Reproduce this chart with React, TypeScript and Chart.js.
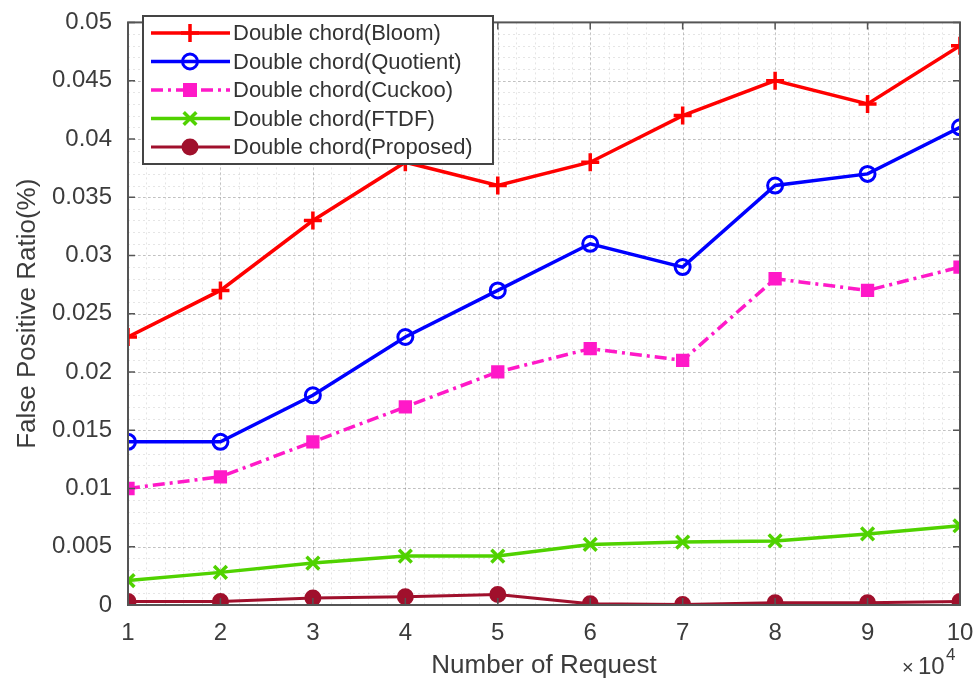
import React, { useEffect, useRef } from "react";
import { Chart, registerables } from "chart.js";

Chart.register(...registerables);

const requests = [1, 2, 3, 4, 5, 6, 7, 8, 9, 10];
const bloom = [0.023, 0.027, 0.033, 0.038, 0.036, 0.038, 0.042, 0.045, 0.043, 0.048];
const quotient = [0.014, 0.014, 0.018, 0.023, 0.027, 0.031, 0.029, 0.036, 0.037, 0.041];
const cuckoo = [0.01, 0.011, 0.014, 0.017, 0.02, 0.022, 0.021, 0.028, 0.027, 0.029];
const ftdf = [0.0021, 0.0028, 0.0036, 0.0042, 0.0042, 0.0052, 0.0054, 0.0055, 0.0061, 0.0068];
const proposed = [0.0003, 0.0003, 0.0006, 0.0007, 0.0009, 0.0001, 0.00005, 0.0002, 0.0002, 0.0003];
const seriesLabels = [
  "Double chord(Bloom)",
  "Double chord(Quotient)",
  "Double chord(Cuckoo)",
  "Double chord(FTDF)",
  "Double chord(Proposed)",
];
const yTicks = [0, 0.005, 0.01, 0.015, 0.02, 0.025, 0.03, 0.035, 0.04, 0.045, 0.05];

const FONT = "'Liberation Sans', Arial, Helvetica, sans-serif";
const TXT = "#3c3c3c";

const toPts = (arr: number[]) => arr.map((v, i) => ({ x: requests[i], y: v }));

function drawMarker(ctx: CanvasRenderingContext2D, style: string, r: number, x: number, y: number) {
  ctx.beginPath();
  if (style === "circle") {
    ctx.arc(x, y, r, 0, Math.PI * 2);
    ctx.fill();
    ctx.stroke();
  } else if (style === "rect") {
    ctx.rect(x - r * 0.75, y - r * 0.75, r * 1.5, r * 1.5);
    ctx.fill();
    ctx.stroke();
  } else if (style === "cross") {
    ctx.moveTo(x - r, y);
    ctx.lineTo(x + r, y);
    ctx.moveTo(x, y - r);
    ctx.lineTo(x, y + r);
    ctx.stroke();
  } else if (style === "crossRot") {
    const d = r * 0.7;
    ctx.moveTo(x - d, y - d);
    ctx.lineTo(x + d, y + d);
    ctx.moveTo(x + d, y - d);
    ctx.lineTo(x - d, y + d);
    ctx.stroke();
  }
}

const gridPlugin = {
  id: "matlabGrid",
  beforeDatasetsDraw(chart: any) {
    const { ctx, chartArea: a, scales } = chart;
    const xs = scales.x;
    const ys = scales.y;
    ctx.save();
    ctx.lineWidth = 1;
    ctx.setLineDash([2, 3]);
    ctx.strokeStyle = "rgba(0,0,0,0.10)";
    for (let i = 0; i <= 45; i++) {
      const v = 1 + i * 0.2;
      const px = Math.round(xs.getPixelForValue(v)) + 0.5;
      ctx.beginPath();
      ctx.moveTo(px, a.top);
      ctx.lineTo(px, a.bottom);
      ctx.stroke();
    }
    for (let i = 0; i <= 50; i++) {
      const v = i * 0.001;
      const py = Math.round(ys.getPixelForValue(v)) + 0.5;
      ctx.beginPath();
      ctx.moveTo(a.left, py);
      ctx.lineTo(a.right, py);
      ctx.stroke();
    }
    ctx.strokeStyle = "rgba(0,0,0,0.16)";
    ctx.setLineDash([3, 2]);
    for (const v of requests) {
      const px = Math.round(xs.getPixelForValue(v)) + 0.5;
      ctx.beginPath();
      ctx.moveTo(px, a.top);
      ctx.lineTo(px, a.bottom);
      ctx.stroke();
    }
    for (const v of yTicks) {
      const py = Math.round(ys.getPixelForValue(v)) + 0.5;
      ctx.beginPath();
      ctx.moveTo(a.left, py);
      ctx.lineTo(a.right, py);
      ctx.stroke();
    }
    ctx.restore();
  },
  afterDatasetsDraw(chart: any) {
    const { ctx, chartArea: a, scales } = chart;
    const xs = scales.x;
    const ys = scales.y;
    ctx.save();
    ctx.setLineDash([]);
    ctx.strokeStyle = "#555";
    ctx.lineWidth = 2;
    ctx.strokeRect(a.left, a.top, a.right - a.left, a.bottom - a.top);
    ctx.lineWidth = 1.5;
    for (const v of yTicks) {
      const py = ys.getPixelForValue(v);
      ctx.beginPath();
      ctx.moveTo(a.left, py);
      ctx.lineTo(a.left + 7, py);
      ctx.moveTo(a.right, py);
      ctx.lineTo(a.right - 7, py);
      ctx.stroke();
    }
    for (const v of requests) {
      const px = xs.getPixelForValue(v);
      ctx.beginPath();
      ctx.moveTo(px, a.bottom);
      ctx.lineTo(px, a.bottom - 7);
      ctx.moveTo(px, a.top);
      ctx.lineTo(px, a.top + 7);
      ctx.stroke();
    }
    // legend
    const lx = 143, ly = 16, lw = 350, lh = 148;
    ctx.fillStyle = "#ffffff";
    ctx.fillRect(lx, ly, lw, lh);
    ctx.strokeStyle = "#444";
    ctx.lineWidth = 2;
    ctx.strokeRect(lx, ly, lw, lh);
    chart.data.datasets.forEach((ds: any, i: number) => {
      const y = ly + 17 + i * 28.5;
      ctx.save();
      ctx.strokeStyle = ds.borderColor;
      ctx.lineWidth = ds.borderWidth;
      ctx.setLineDash(ds.borderDash || []);
      ctx.beginPath();
      ctx.moveTo(lx + 8, y);
      ctx.lineTo(lx + 87, y);
      ctx.stroke();
      ctx.setLineDash([]);
      ctx.fillStyle = ds.pointBackgroundColor;
      ctx.strokeStyle = ds.borderColor;
      ctx.lineWidth = ds.pointBorderWidth;
      drawMarker(ctx, ds.pointStyle, ds.pointRadius, lx + 47, y);
      ctx.restore();
      ctx.fillStyle = "#333";
      ctx.font = `22px ${FONT}`;
      ctx.textBaseline = "middle";
      ctx.textAlign = "left";
      ctx.fillText(ds.label, lx + 90, y + 1);
    });
    // x10^4
    ctx.fillStyle = TXT;
    ctx.textBaseline = "alphabetic";
    ctx.textAlign = "left";
    ctx.font = `20px ${FONT}`;
    ctx.fillText("\u00d7", 902, 674);
    ctx.font = `24px ${FONT}`;
    ctx.fillText("10", 918, 674);
    ctx.font = `17px ${FONT}`;
    ctx.fillText("4", 946, 660);
    ctx.restore();
  },
};

export default function App() {
  const ref = useRef<HTMLCanvasElement | null>(null);
  useEffect(() => {
    document.body.style.margin = "0";
    const canvas = ref.current!;
    const chart = new Chart(canvas, {
      type: "line",
      data: {
        datasets: [
          {
            label: seriesLabels[0],
            data: toPts(bloom),
            borderColor: "#ff0000",
            backgroundColor: "#ff0000",
            pointBackgroundColor: "#ff0000",
            borderWidth: 3.5,
            pointStyle: "cross",
            pointRadius: 9,
            pointBorderWidth: 3.5,
          },
          {
            label: seriesLabels[1],
            data: toPts(quotient),
            borderColor: "#0000ff",
            backgroundColor: "#ffffff",
            pointBackgroundColor: "rgba(255,255,255,0)",
            borderWidth: 3.5,
            pointStyle: "circle",
            pointRadius: 7.5,
            pointBorderWidth: 3,
          },
          {
            label: seriesLabels[2],
            data: toPts(cuckoo),
            borderColor: "#ff19c8",
            backgroundColor: "#ff19c8",
            pointBackgroundColor: "#ff19c8",
            borderWidth: 3.5,
            borderDash: [12, 5, 3, 5],
            pointStyle: "rect",
            pointRadius: 8,
            pointBorderWidth: 2,
          },
          {
            label: seriesLabels[3],
            data: toPts(ftdf),
            borderColor: "#50d200",
            backgroundColor: "#50d200",
            pointBackgroundColor: "#50d200",
            borderWidth: 3.5,
            pointStyle: "crossRot",
            pointRadius: 9,
            pointBorderWidth: 3.5,
          },
          {
            label: seriesLabels[4],
            data: toPts(proposed),
            borderColor: "#a0102c",
            backgroundColor: "#a0102c",
            pointBackgroundColor: "#a0102c",
            borderWidth: 3,
            pointStyle: "circle",
            pointRadius: 7.5,
            pointBorderWidth: 2,
          },
        ],
      },
      options: {
        responsive: false,
        animation: false,
        layout: { padding: { top: 15, right: 20, left: 0, bottom: 0 } },
        plugins: { legend: { display: false }, tooltip: { enabled: false } },
        scales: {
          x: {
            type: "linear",
            min: 1,
            max: 10,
            grid: { display: false },
            border: { display: false },
            ticks: {
              stepSize: 1,
              color: TXT,
              font: { family: FONT, size: 24 },
              padding: 6,
              maxRotation: 0,
            },
            title: {
              display: true,
              text: "Number of Request",
              color: TXT,
              font: { family: FONT, size: 26, lineHeight: 1 },
              padding: { top: 0, bottom: 0 },
            },
            afterFit: (s: any) => {
              s.height = 74;
            },
          },
          y: {
            min: 0,
            max: 0.05,
            grid: { display: false },
            border: { display: false },
            ticks: {
              stepSize: 0.005,
              color: TXT,
              font: { family: FONT, size: 24 },
              padding: 8,
              callback: (v: any) => String(Number(Number(v).toFixed(3))),
            },
            title: {
              display: true,
              text: "False Positive Ratio(%)",
              color: TXT,
              font: { family: FONT, size: 26, lineHeight: 1 },
              padding: { top: 15, bottom: 0 },
            },
            afterFit: (s: any) => {
              s.width = 128;
            },
          },
        },
      },
      plugins: [gridPlugin],
    } as any);
    return () => chart.destroy();
  }, []);
  return (
    <div style={{ width: 980, height: 679, background: "#fff" }}>
      <canvas ref={ref} width={980} height={679} style={{ display: "block", width: 980, height: 679 }} />
    </div>
  );
}
